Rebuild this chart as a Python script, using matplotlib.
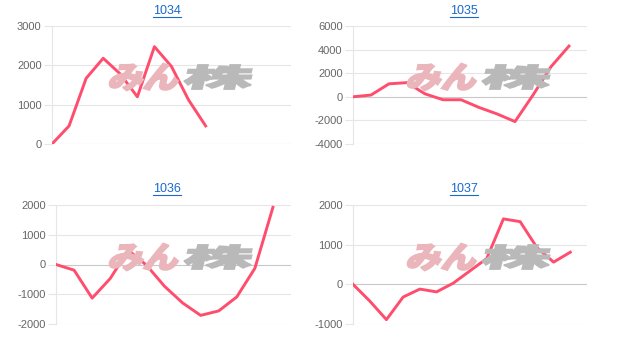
import matplotlib.pyplot as plt
from matplotlib.lines import Line2D
from matplotlib.patches import PathPatch
from matplotlib.textpath import TextPath
from matplotlib.font_manager import FontProperties
from matplotlib.transforms import Affine2D

# chart data
titles = ["1034", "1035", "1036", "1037"]
slots = [14, 13, 13, 14]  # number of x intervals on each chart
values_1034 = [0, 460, 1670, 2180, 1780, 1200, 2475, 1970, 1120, 460]
values_1035 = [0, 150, 1100, 1200, 250, -250, -250, -900, -1450, -2100, 150, 2550, 4300]
values_1036 = [0, -190, -1130, -470, 480, -20, -730, -1290, -1710, -1560, -1090, -130, 1920]
values_1037 = [0, -420, -890, -320, -120, -190, 30, 340, 650, 1650, 1580, 930, 560, 810]
series = [values_1034, values_1035, values_1036, values_1037]
yticks = [
    [0, 1000, 2000, 3000],
    [-4000, -2000, 0, 2000, 4000, 6000],
    [-2000, -1000, 0, 1000, 2000],
    [-1000, 0, 1000, 2000],
]

W, H = 620, 349
# axes boxes in pixels: left, right, top, bottom
boxes = [(52, 291, 26, 144), (353, 587, 26, 144), (56, 291, 205, 324), (353, 587, 205, 324)]
title_pos = [(167, 11), (464, 11), (167, 189), (464, 189)]
mark_pos = [(182, 77), (480, 77), (182, 257), (480, 257)]

plt.rcParams['font.family'] = ['Liberation Sans', 'DejaVu Sans']
plt.rcParams['axes.unicode_minus'] = False

fig = plt.figure(figsize=(W / 100, H / 100), dpi=100)
to_fig = Affine2D().scale(1 / W, 1 / H) + fig.transFigure

jp = FontProperties(family='Noto Sans CJK JP', weight='black')


def watermark(cx, cy):
    # "みん" pink + "株" gray, slanted like the logo
    parts = [("みん", '#eab6bb', cx - 71, cx - 3, 27), ("株", '#b9b9b9', cx + 3, cx + 71, 24)]
    for txt, col, x0, x1, h in parts:
        p = TextPath((0, 0), txt, size=1, prop=jp)
        ext = p.get_extents()
        tr = (Affine2D().translate(-ext.x0, -ext.y0)
              .scale((x1 - x0) / ext.width, h / ext.height)
              .skew_deg(14, 0)
              .translate(x0 - h * 0.12, H - cy - h / 2))
        fig.add_artist(PathPatch(tr.transform_path(p), facecolor=col, edgecolor=col,
                                 lw=1.3, transform=to_fig, zorder=1))


for i in range(4):
    l, r, t, b = boxes[i]
    ax = fig.add_axes([l / W, (H - b) / H, (r - l) / W, (b - t) / H])
    ax.set_facecolor('none')
    vals = series[i]
    ax.plot(range(len(vals)), vals, color='#ff4d6d', lw=2.1, zorder=5)
    ax.set_xlim(0, slots[i])
    ax.set_ylim(yticks[i][0], yticks[i][-1])
    ax.set_yticks(yticks[i])
    ax.set_yticklabels([str(v) for v in yticks[i]])
    ax.set_xticks([])
    for v in yticks[i]:
        ax.axhline(v, color='#c8c8c8' if v == 0 else '#e6e6e6', lw=0.8, zorder=0)
    for s in ['top', 'right', 'bottom']:
        ax.spines[s].set_visible(False)
    ax.spines['left'].set_color('#e6e6e6')
    ax.spines['left'].set_linewidth(0.8)
    ax.tick_params(axis='y', length=6, width=0.8, color='#e6e6e6', pad=1.5,
                   labelsize=8, labelcolor='#666666')

    tx, ty = title_pos[i]
    fig.text(tx / W, 1 - ty / H, titles[i], ha='center', va='center',
             fontsize=9, color='#1a6ac9')
    fig.add_artist(Line2D([(tx - 14) / W, (tx + 14) / W], [1 - (ty + 6) / H] * 2,
                          color='#1a6ac9', lw=0.8))
    watermark(*mark_pos[i])

fig.savefig('out.png', dpi=100)
